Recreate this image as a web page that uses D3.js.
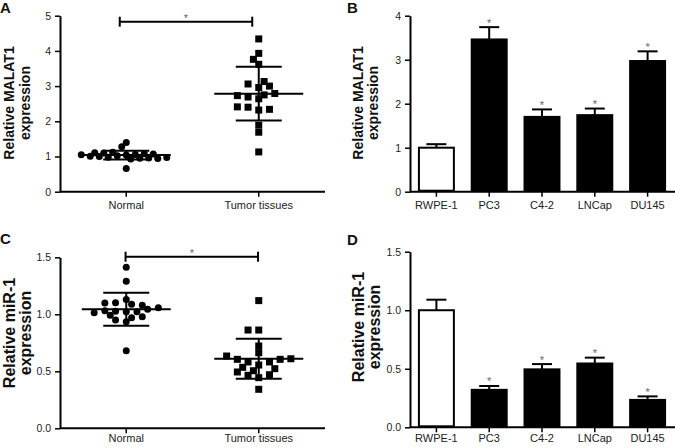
<!DOCTYPE html>
<html><head><meta charset="utf-8">
<script src="https://cdn.jsdelivr.net/npm/d3@7"></script>
<style>
body{margin:0;background:#fff}
svg{display:block}
text{font-family:Arial,"Liberation Sans",sans-serif}
</style>
</head><body>
<svg id="chart" width="675" height="448"></svg>
<script>
// ---------- data ----------
const groups = ["Normal", "Tumor tissues"];
const malat1Normal = [1.40, 0.66, 1.04, 1.02, 1.06, 0.98, 1.08, 0.95, 1.10, 1.00, 0.93, 1.12, 0.96, 1.07, 0.94, 1.11, 1.01, 0.97, 1.05, 1.28];
const malat1Tumor = [4.34, 3.93, 3.62, 3.76, 2.96, 3.06, 3.00, 3.13, 2.64, 2.69, 2.75, 2.79, 2.73, 2.32, 2.40, 2.34, 2.41, 1.69, 1.89, 1.13];
const malat1GroupMean = [1.04, 2.785];
const malat1GroupSD = [0.125, 0.765];
const mir1Normal = [1.412, 1.289, 0.681, 1.13, 1.023, 0.935, 1.102, 1.088, 1.026, 0.95, 1.023, 0.97, 1.032, 0.991, 1.044, 0.979, 1.079, 1.014, 1.10, 1.058];
const mir1Tumor = [1.12, 0.862, 0.862, 0.722, 0.663, 0.555, 0.444, 0.342, 0.582, 0.582, 0.465, 0.47, 0.605, 0.605, 0.494, 0.505, 0.634, 0.61, 0.523, 0.535];
const mir1GroupMean = [1.044, 0.61];
const mir1GroupSD = [0.145, 0.176];

const cellLines = ["RWPE-1", "PC3", "C4-2", "LNCap", "DU145"];
const malat1Cells = [1.00, 3.46, 1.70, 1.74, 2.97];
const malat1CellsErr = [0.08, 0.28, 0.17, 0.15, 0.22];
const mir1Cells = [1.00, 0.32, 0.495, 0.545, 0.234];
const mir1CellsErr = [0.09, 0.033, 0.045, 0.05, 0.03];
const cellSignificant = [false, true, true, true, true];

const ticksA = [0, 1, 2, 3, 4, 5];
const ticksB = [0, 1, 2, 3, 4];
const ticksMir = [0, 0.5, 1.0, 1.5];

// ---------- drawing ----------
const svg = d3.select("#chart");
const FONT_TICK = 10.5, FONT_X = 11;

function axes(g, x, y, ticks, fmt) {
  const ya = g.append("g").attr("transform", `translate(${x.range()[0]},0)`)
    .call(d3.axisLeft(y).tickValues(ticks).tickFormat(fmt).tickSize(5).tickPadding(4).tickSizeOuter(0));
  ya.select(".domain").attr("stroke-width", 2);
  ya.selectAll(".tick line").attr("stroke-width", 1.5);
  ya.selectAll("text").attr("font-size", FONT_TICK).attr("fill", "#222").style("font-family", "Arial, 'Liberation Sans', sans-serif");
  return ya;
}

function xAxis(g, x, y0, x0, x1, pad) {
  const xa = g.append("g").attr("transform", `translate(0,${y0})`)
    .call(d3.axisBottom(x).tickSize(5).tickPadding(pad).tickSizeOuter(0));
  xa.select(".domain").attr("d", `M${x0},0H${x1}`).attr("stroke-width", 2);
  xa.selectAll(".tick line").attr("stroke-width", 1.5);
  xa.selectAll("text").attr("font-size", FONT_X).attr("fill", "#222").style("font-family", "Arial, 'Liberation Sans', sans-serif");
}

function yTitle(lines, xs, cy, size) {
  lines.forEach((t, i) => {
    svg.append("text").attr("transform", `translate(${xs[i]},${cy}) rotate(-90)`)
      .attr("text-anchor", "middle").attr("font-weight", "bold").attr("font-size", size)
      .attr("fill", "#111").text(t);
  });
}

function panelLetter(t, x, y) {
  svg.append("text").attr("x", x).attr("y", y).attr("font-weight", "bold")
    .attr("font-size", 15).attr("fill", "#111").text(t);
}

function swarm(values, cx, y, step, minDist) {
  const placed = [];
  return values.map(v => {
    const py = y(v);
    for (let k = 0; k < 200; k++) {
      const m = k === 0 ? 0 : (k % 2 === 1 ? -Math.ceil(k / 2) : Math.ceil(k / 2));
      const px = cx + m * step;
      if (placed.every(p => Math.hypot(p.x - px, p.y - py) >= minDist)) {
        placed.push({x: px, y: py});
        return {x: px, y: py};
      }
    }
  });
}

function scatterPanel(cfg) {
  const g = svg.append("g");
  const x = d3.scaleBand().domain(groups).range(cfg.xr).padding(0);
  const y = d3.scaleLinear().domain(cfg.yd).range(cfg.yr);
  axes(g, x, y, cfg.ticks, cfg.fmt);
  xAxis(g, x, cfg.yr[0], cfg.xr[0], cfg.xr[1], cfg.xpad);
  const cx = groups.map(d => x(d) + x.bandwidth() / 2);
  const pn = swarm(cfg.normal, cx[0], y, cfg.normalStep, cfg.normalDist);
  g.selectAll(".c").data(pn).join("circle").attr("cx", d => d.x).attr("cy", d => d.y).attr("r", 3.5).attr("fill", "#000");
  const pt = swarm(cfg.tumor, cx[1], y, 5.35, 6.5);
  g.selectAll(".s").data(pt).join("rect").attr("x", d => d.x - 3.5).attr("y", d => d.y - 3.5).attr("width", 7).attr("height", 7).attr("fill", "#000");
  cfg.mean.forEach((m, i) => {
    const c = cx[i], s = cfg.sd[i];
    const lg = g.append("g").attr("stroke", "#000").attr("stroke-width", 2);
    lg.append("line").attr("x1", c - 44.5).attr("x2", c + 44.5).attr("y1", y(m)).attr("y2", y(m));
    lg.append("line").attr("x1", c - 23).attr("x2", c + 23).attr("y1", y(m + s)).attr("y2", y(m + s));
    lg.append("line").attr("x1", c - 23).attr("x2", c + 23).attr("y1", y(m - s)).attr("y2", y(m - s));
    lg.append("line").attr("x1", c).attr("x2", c).attr("y1", y(m + s)).attr("y2", y(m - s));
  });
  const by = cfg.bracketY, bx0 = cx[0] + cfg.bracketDx, bx1 = cx[1] + cfg.bracketDx;
  const bg = g.append("g").attr("stroke", "#000").attr("stroke-width", 2);
  bg.append("line").attr("x1", bx0).attr("x2", bx1).attr("y1", by).attr("y2", by);
  bg.append("line").attr("x1", bx0).attr("x2", bx0).attr("y1", by - 5).attr("y2", by + 5);
  bg.append("line").attr("x1", bx1).attr("x2", bx1).attr("y1", by - 5).attr("y2", by + 5);
  g.append("text").attr("x", (bx0 + bx1) / 2).attr("y", by).attr("text-anchor", "middle")
    .attr("font-size", 11).attr("fill", "#666").text("*");
}

function barPanel(cfg) {
  const g = svg.append("g");
  const x = d3.scaleBand().domain(cellLines).range(cfg.xr).paddingInner(0.3).paddingOuter(0.15);
  const y = d3.scaleLinear().domain(cfg.yd).range(cfg.yr);
  axes(g, x, y, cfg.ticks, cfg.fmt);
  xAxis(g, x, cfg.yr[0], cfg.axisX0, cfg.xr[1] + 1, cfg.xpad);
  const data = cellLines.map((c, i) => ({c, v: cfg.values[i], e: cfg.err[i], sig: cellSignificant[i], i}));
  const eg = g.append("g").attr("stroke", "#000").attr("stroke-width", 2);
  data.forEach(d => {
    const c = x(d.c) + x.bandwidth() / 2;
    eg.append("line").attr("x1", c).attr("x2", c).attr("y1", y(d.v)).attr("y2", y(d.v + d.e));
    eg.append("line").attr("x1", c - 10).attr("x2", c + 10).attr("y1", y(d.v + d.e)).attr("y2", y(d.v + d.e));
  });
  g.selectAll(".bar").data(data).join("rect")
    .attr("x", d => x(d.c) + 1).attr("width", x.bandwidth() - 2)
    .attr("y", d => y(d.v)).attr("height", d => y(0) - y(d.v) - 1)
    .attr("fill", d => d.i === 0 ? "#fff" : "#000").attr("stroke", "#000").attr("stroke-width", 2);
  g.selectAll(".ast").data(data.filter(d => d.sig)).join("text")
    .attr("x", d => x(d.c) + x.bandwidth() / 2).attr("y", d => y(d.v + d.e) - 0.5)
    .attr("text-anchor", "middle").attr("font-size", 11).attr("fill", "#666").text("*");
}

const fmtInt = d3.format("d"), fmt1 = d3.format(".1f");

scatterPanel({xr: [60, 325], yd: [0, 5], yr: [191.7, 15.7], ticks: ticksA, fmt: fmtInt,
  normal: malat1Normal, tumor: malat1Tumor, mean: malat1GroupMean, sd: malat1GroupSD,
  normalStep: 4.5, normalDist: 5.6,
  bracketY: 21.7, bracketDx: -6.5, xpad: 5});
barPanel({xr: [410, 674], axisX0: 410, yd: [0, 4], yr: [191.7, 15.7], ticks: ticksB, fmt: fmtInt,
  values: malat1Cells, err: malat1CellsErr, xpad: 5});
scatterPanel({xr: [60, 325], yd: [0, 1.5], yr: [428.3, 257.3], ticks: ticksMir, fmt: fmt1,
  normal: mir1Normal, tumor: mir1Tumor, mean: mir1GroupMean, sd: mir1GroupSD,
  normalStep: 5.35, normalDist: 6.5,
  bracketY: 256.7, bracketDx: -0.7, xpad: 1});
barPanel({xr: [410, 674], axisX0: 410, yd: [0, 1.5], yr: [427.3, 251.7], ticks: ticksMir, fmt: fmt1,
  values: mir1Cells, err: mir1CellsErr, xpad: 2});

yTitle(["Relative MALAT1", "expression"], [14, 30], 103, 14);
yTitle(["Relative MALAT1", "expression"], [363, 378], 103, 14);
yTitle(["Relative miR-1", "expression"], [15, 31], 333, 16);
yTitle(["Relative miR-1", "expression"], [364, 380], 327, 16);

panelLetter("A", 0, 13);
panelLetter("B", 347, 13);
panelLetter("C", 0, 244);
panelLetter("D", 347, 245);
</script>
</body></html>
